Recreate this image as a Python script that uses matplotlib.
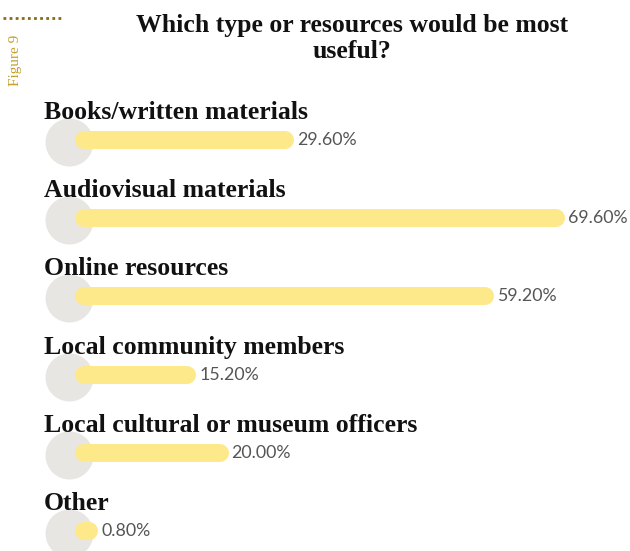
import matplotlib
matplotlib.use("Agg")
import matplotlib.pyplot as plt
from matplotlib import transforms as mtrans

categories = [
    "Books/written materials",
    "Audiovisual materials",
    "Online resources",
    "Local community members",
    "Local cultural or museum officers",
    "Other",
]
values = [29.6, 69.6, 59.2, 15.2, 20.0, 0.8]
value_labels = [f"{v:.2f}%" for v in values]
title_lines = ["Which type or resources would be most", "useful?"]
figure_tag = "Figure 9"

W, H, DPI = 630, 551, 100
fig = plt.figure(figsize=(W / DPI, H / DPI), dpi=DPI)
fig.patch.set_facecolor("white")

px_per_unit = 6.78
left_px, top_px = 84, 100
row_px, first_row_px = 78.2, 140
ax = fig.add_axes([left_px / W, 0, 1 - left_px / W, 1 - top_px / H])
ax.set_xlim(0, (W - left_px) / px_per_unit)
ax.set_ylim((H - first_row_px) / row_px, (top_px - first_row_px) / row_px)
ax.axis("off")

SERIF = "Liberation Serif"
bar_color = "#fde98a"
circle_color = "#e8e6e3"

def px_offset(dx, dy):
    return mtrans.ScaledTranslation(dx / DPI, dy / DPI, fig.dpi_scale_trans)

label_trans = mtrans.blended_transform_factory(fig.transFigure, ax.transData)

for i, (cat, v, lab) in enumerate(zip(categories, values, value_labels)):
    # grey disc behind the start of each bar
    ax.scatter([0], [i], s=48 ** 2 * (72 / DPI) ** 2, color=circle_color,
               transform=ax.transData + px_offset(-15, -2), zorder=1,
               clip_on=False, linewidths=0)
    # rounded bar
    ax.plot([0, v], [i, i], color=bar_color, linewidth=18 * 72 / DPI,
            solid_capstyle="round", zorder=2, clip_on=False)
    # category heading
    ax.text(44 / W, i, cat, transform=label_trans + px_offset(0, 21),
            fontsize=18.5, fontweight="bold", family=SERIF, color="#111111",
            va="baseline", ha="left", zorder=3, clip_on=False)
    # value label
    ax.text(v, i, lab, transform=ax.transData + px_offset(12, 0),
            fontsize=12.8, family="Lato", color="#555555",
            va="center", ha="left", zorder=3, clip_on=False)

for k, line in enumerate(title_lines):
    fig.text(352 / W, 1 - (32 + 26 * k) / H, line, ha="center", va="baseline",
             fontsize=18.5, fontweight="bold", family=SERIF, color="#111111")

fig.text(15 / W, 1 - 60 / H, figure_tag, rotation=90, ha="center", va="center",
         fontsize=11, family=SERIF, color="#c3a02c")
fig.add_artist(plt.Line2D([3 / W, 63 / W], [1 - 18 / H, 1 - 18 / H],
                          transform=fig.transFigure, color="#8a6a12",
                          linewidth=2, linestyle=(0, (1, 1.2))))

fig.savefig("out.png", dpi=DPI)
